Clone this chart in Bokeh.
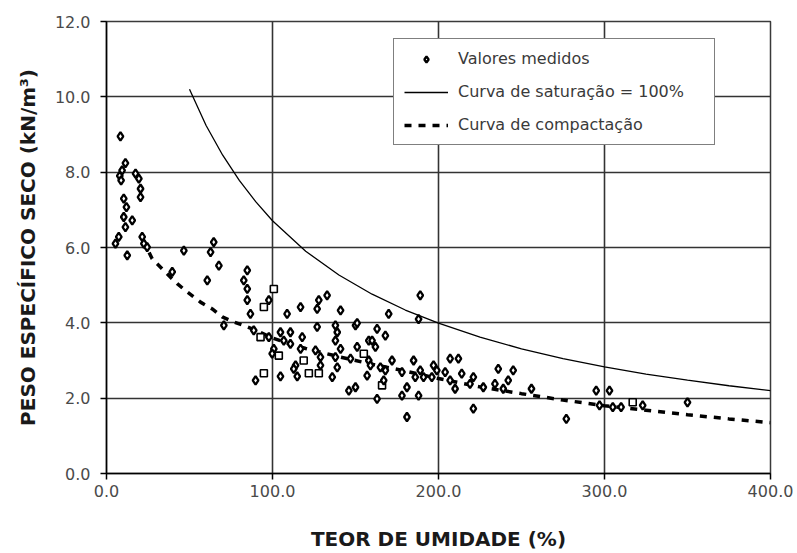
from bokeh.plotting import figure
from bokeh.models import (Legend, LegendItem, FixedTicker, PrintfTickFormatter, Range1d)
from bokeh.embed import file_html
from bokeh.resources import INLINE

# ---- data ----
diam_x = [8.4, 11.4, 9.4, 8.0, 8.8, 17.5, 19.5, 20.5, 20.5, 10.4, 12.0, 10.4, 15.5, 11.4, 7.4, 5.4,
          21.5, 22.5, 64.6, 12.5, 24.5, 46.6, 62.7, 67.7, 39.6, 60.7, 70.7, 84.8, 82.7, 84.8, 84.8,
          97.8, 86.7, 88.7, 97.8, 104.8, 110.8, 106.8, 110.8, 117.9, 108.8, 116.9, 127.9, 132.9,
          126.9, 141.0, 126.9, 137.9, 150.0, 139.0, 137.9, 141.0, 158.0, 100.8, 99.8, 116.9, 125.9,
          128.9, 137.9, 128.9, 113.9, 112.8, 114.9, 104.8, 89.8, 139.0, 136.0, 147.0, 151.0, 158.0,
          157.0, 146.0, 150.0, 151.0, 189.0, 170.0, 188.0, 163.0, 168.0, 160.0, 162.0, 159.0, 165.0,
          168.0, 172.0, 167.0, 178.0, 185.0, 189.0, 186.0, 191.0, 196.0, 197.0, 199.0, 204.0, 181.0,
          178.0, 188.0, 163.0, 181.0, 207.0, 212.0, 207.0, 210.0, 214.0, 221.0, 219.0, 227.0, 234.0,
          221.0, 236.0, 245.0, 242.0, 239.0, 256.0, 277.0, 295.0, 303.0, 297.0, 305.0, 310.0, 323.0,
          350.0]
diam_y = [8.95, 8.24, 8.05, 7.90, 7.78, 7.96, 7.83, 7.56, 7.34, 7.30, 7.07, 6.81, 6.72, 6.54, 6.28, 6.10,
          6.28, 6.10, 6.14, 5.79, 6.01, 5.92, 5.88, 5.52, 5.35, 5.13, 3.93, 5.39, 5.13, 4.90, 4.60,
          4.60, 4.24, 3.80, 3.62, 3.75, 3.75, 3.53, 3.44, 3.62, 4.24, 4.42, 4.60, 4.73,
          4.37, 4.33, 3.89, 3.93, 3.93, 3.75, 3.53, 3.31, 3.53, 3.31, 3.18, 3.31, 3.27,
          3.09, 3.09, 2.87, 2.87, 2.78, 2.58, 2.58, 2.47, 2.82, 2.56, 3.05, 3.36, 3.00,
          2.60, 2.20, 2.29, 3.99, 4.73, 4.24, 4.10, 3.84, 3.66, 3.53, 3.36, 2.87, 2.82,
          2.74, 3.00, 2.47, 2.69, 3.00, 2.74, 2.56, 2.56, 2.56, 2.87, 2.74, 2.69, 2.29,
          2.07, 2.07, 1.98, 1.50, 3.05, 3.05, 2.47, 2.25, 2.65, 2.56, 2.38, 2.29, 2.38,
          1.72, 2.78, 2.74, 2.47, 2.25, 2.25, 1.45, 2.20, 2.20, 1.81, 1.76, 1.76, 1.81,
          1.89]
sq_x = [100.8, 94.8, 92.8, 103.8, 118.8, 121.9, 127.9, 94.8, 155.0, 166.0, 317.0]
sq_y = [4.90, 4.42, 3.62, 3.13, 3.00, 2.66, 2.66, 2.66, 3.18, 2.34, 1.89]

sat_x = [50, 60, 70, 80, 90, 100, 120, 140, 160, 180, 200, 225, 250, 275, 300, 325, 350, 375, 400]
sat_y = [10.2, 9.24, 8.45, 7.78, 7.21, 6.71, 5.90, 5.27, 4.76, 4.34, 3.99, 3.62, 3.31, 3.05,
         2.83, 2.64, 2.48, 2.33, 2.20]

comp_x = [22, 27.5, 36.5, 42.6, 48.6, 56.6, 63.7, 69.7, 76.7, 82.7, 90, 100, 110, 120, 140, 160,
          180, 200, 225, 250, 275, 300, 325, 350, 375, 400]
comp_y = [6.2, 5.7, 5.3, 5.04, 4.82, 4.55, 4.37, 4.16, 4.02, 3.93, 3.8, 3.6, 3.45, 3.32, 3.1, 2.9,
          2.72, 2.52, 2.3, 2.12, 1.95, 1.8, 1.68, 1.56, 1.45, 1.35]

x_ticks = [0, 100, 200, 300, 400]
y_ticks = [0, 2, 4, 6, 8, 10, 12]

labels = ["Valores medidos", "Curva de saturação = 100%", "Curva de compactação"]

# ---- figure ----
p = figure(width=797, height=553, output_backend="svg", toolbar_location=None,
           x_range=Range1d(0, 400), y_range=Range1d(0, 12),
           min_border_left=106, min_border_right=27, min_border_top=21, min_border_bottom=80,
           background_fill_color="white", border_fill_color="white")
p.outline_line_color = "#3a3a3a"
p.outline_line_width = 1.5

for ax in (p.xaxis[0], p.yaxis[0]):
    ax.axis_line_color = "black"
    ax.axis_line_width = 1.5
    ax.major_tick_line_color = "black"
    ax.major_tick_line_width = 1.5
    ax.major_tick_out = 6
    ax.major_tick_in = 0
    ax.minor_tick_line_color = None
    ax.major_label_text_font = "DejaVu Sans"
    ax.major_label_text_font_size = "16px"
    ax.major_label_text_color = "#4a4a4a"
    ax.formatter = PrintfTickFormatter(format="%.1f")
    ax.axis_label_text_font = "DejaVu Sans"
    ax.axis_label_text_font_style = "bold"
    ax.axis_label_text_font_size = "20px"
    ax.axis_label_text_color = "#1a1a1a"

p.xaxis[0].ticker = FixedTicker(ticks=x_ticks)
p.yaxis[0].ticker = FixedTicker(ticks=y_ticks)
p.xaxis[0].axis_label = "TEOR DE UMIDADE (%)"
p.yaxis[0].axis_label = "PESO ESPECÍFICO SECO (kN/m³)"
p.xaxis[0].axis_label_standoff = 27
p.yaxis[0].axis_label_standoff = 12
p.xaxis[0].major_label_standoff = 5
p.yaxis[0].major_label_standoff = 10

p.xgrid.ticker = FixedTicker(ticks=x_ticks)
p.ygrid.ticker = FixedTicker(ticks=y_ticks)
for g in (p.xgrid[0], p.ygrid[0]):
    g.grid_line_color = "#333333"
    g.grid_line_width = 1.6

sat = p.line(sat_x, sat_y, line_color="black", line_width=1.3)
comp = p.line(comp_x, comp_y, line_color="black", line_width=3.5, line_dash="7 7")
p.scatter(sq_x, sq_y, marker="square", size=7, line_color="black", line_width=1.6, fill_color="white")
pts = p.scatter(diam_x, diam_y, marker="diamond", size=8.5, line_color="black", line_width=2.3,
                fill_color="white")

legend = Legend(items=[LegendItem(label=labels[0], renderers=[pts]),
                       LegendItem(label=labels[1], renderers=[sat]),
                       LegendItem(label=labels[2], renderers=[comp])],
                location=(287, 328))
legend.label_text_font = "DejaVu Sans"
legend.label_text_font_size = "16px"
legend.label_text_color = "#3a3a3a"
legend.glyph_width = 44
legend.glyph_height = 16
legend.label_standoff = 10
legend.label_width = 246
legend.spacing = 14
legend.padding = 10
legend.margin = 0
legend.border_line_color = "black"
legend.border_line_width = 1.6
legend.background_fill_color = "white"
legend.background_fill_alpha = 1.0
p.add_layout(legend, "center")

open("out.html", "w").write(file_html(p, INLINE))
